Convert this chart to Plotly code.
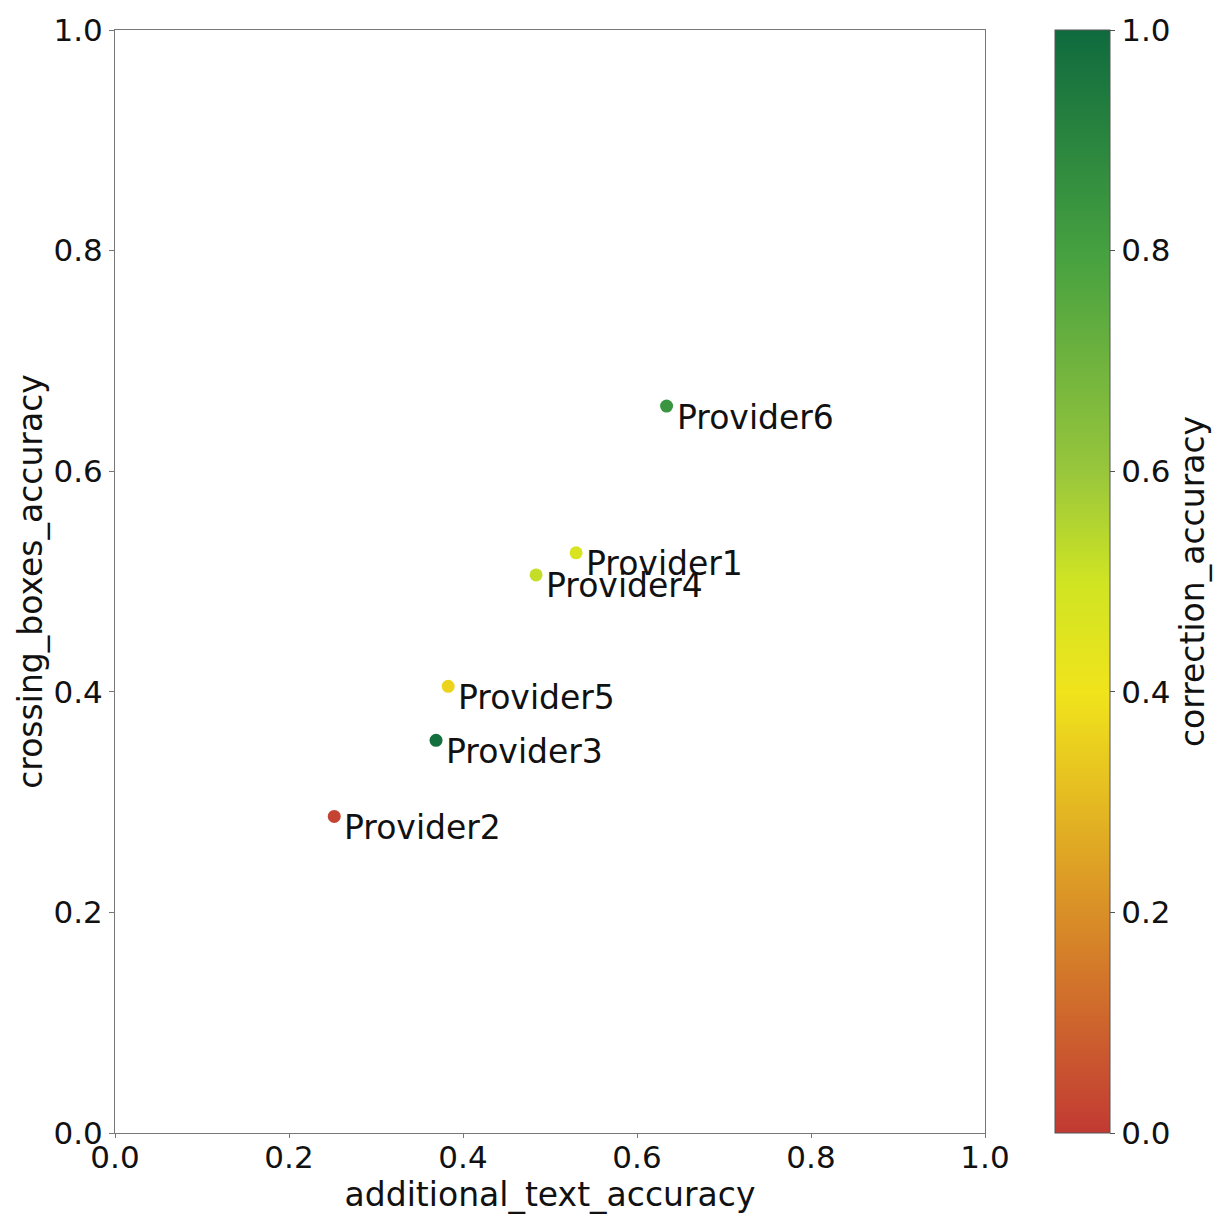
import plotly.graph_objects as go

providers = ["Provider1", "Provider2", "Provider3", "Provider4", "Provider5", "Provider6"]
additional_text_accuracy = [0.530, 0.252, 0.369, 0.484, 0.383, 0.634]
crossing_boxes_accuracy = [0.526, 0.287, 0.356, 0.506, 0.405, 0.659]
correction_accuracy = [0.47, 0.02, 0.98, 0.52, 0.36, 0.84]

colorscale = [
    [0.0, "#c23a33"],
    [0.2, "#d98f27"],
    [0.4, "#f0e41c"],
    [0.5, "#cfe423"],
    [0.6, "#98c63c"],
    [0.8, "#45a040"],
    [1.0, "#0f6a3e"],
]

font_family = "DejaVu Sans"

fig = go.Figure()
fig.add_trace(go.Scatter(
    x=additional_text_accuracy,
    y=crossing_boxes_accuracy,
    mode="markers",
    marker=dict(
        size=13,
        color=correction_accuracy,
        colorscale=colorscale,
        cmin=0, cmax=1,
        showscale=True,
        colorbar=dict(
            x=1.0805, xanchor="left", xref="paper",
            y=0.5, yanchor="middle", len=1.0, lenmode="fraction",
            ypad=0, xpad=0,
            thickness=55,
            outlinewidth=1, outlinecolor="#555555",
            tickvals=[0, 0.2, 0.4, 0.6, 0.8, 1.0],
            ticktext=["0.0", "0.2", "0.4", "0.6", "0.8", "1.0"],
            ticks="outside", ticklen=5, tickcolor="#555555",
            tickfont=dict(family=font_family, size=31, color="#111111"),
            title=dict(text="correction_accuracy", side="right",
                       font=dict(family=font_family, size=33, color="#111111")),
        ),
    ),
    showlegend=False,
    cliponaxis=False,
))

for name, xv, yv in zip(providers, additional_text_accuracy, crossing_boxes_accuracy):
    fig.add_annotation(
        x=xv, y=yv, xref="x", yref="y", text=name, showarrow=False,
        xanchor="left", yanchor="middle", xshift=8, yshift=-11,
        font=dict(family=font_family, size=33, color="#111111"),
    )

fig.update_layout(
    width=1217, height=1216,
    margin=dict(l=115, r=232, t=30, b=83, autoexpand=False),
    paper_bgcolor="white", plot_bgcolor="white",
    font=dict(family=font_family, size=30, color="#111111"),
)
fig.update_xaxes(
    range=[0, 1], tickvals=[0, 0.2, 0.4, 0.6, 0.8, 1.0],
    ticktext=["0.0", "0.2", "0.4", "0.6", "0.8", "1.0"],
    showgrid=False, zeroline=False,
    showline=True, linecolor="#777777", linewidth=1, mirror=True,
    ticks="outside", ticklen=4, tickcolor="#777777",
    ticklabelstandoff=-7,
    tickfont=dict(family=font_family, size=31, color="#111111"),
    title=dict(text="additional_text_accuracy", standoff=2,
               font=dict(family=font_family, size=33, color="#111111")),
)
fig.update_yaxes(
    range=[0, 1], tickvals=[0, 0.2, 0.4, 0.6, 0.8, 1.0],
    ticktext=["0.0", "0.2", "0.4", "0.6", "0.8", "1.0"],
    showgrid=False, zeroline=False,
    showline=True, linecolor="#777777", linewidth=1, mirror=True,
    ticks="outside", ticklen=5, tickcolor="#777777",
    tickfont=dict(family=font_family, size=31, color="#111111"),
    title=dict(text="crossing_boxes_accuracy", standoff=0,
               font=dict(family=font_family, size=33, color="#111111")),
)

fig.write_html("out.html")
